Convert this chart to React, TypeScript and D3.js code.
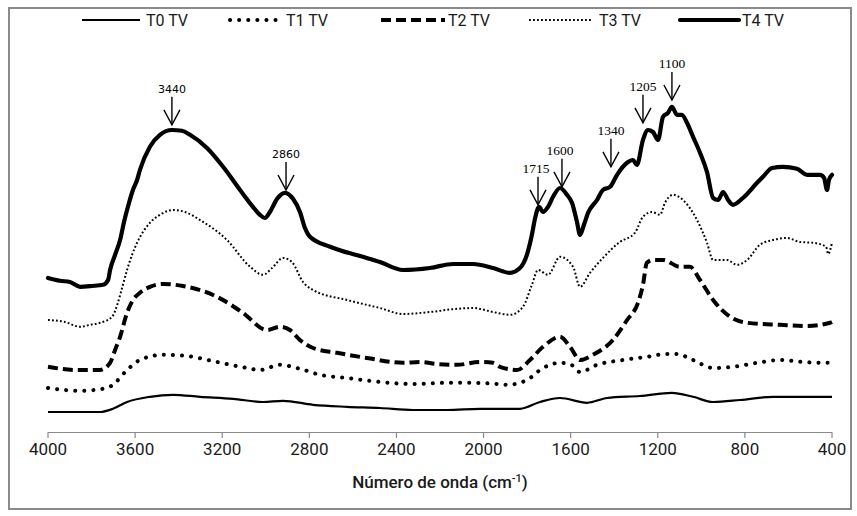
import React from "react";
import * as d3 from "d3";

// wavenumber (cm-1), absorbance (a.u.)
const T0: [number, number][] = [
  [4000, 0.05], [3761, 0.05], [3702, 0.058], [3637, 0.075], [3532, 0.088], [3426, 0.093],
  [3302, 0.088], [3150, 0.083], [3013, 0.075], [2921, 0.078], [2783, 0.068], [2627, 0.063],
  [2476, 0.06], [2324, 0.055], [2168, 0.055], [2016, 0.058], [1833, 0.058], [1741, 0.075],
  [1649, 0.085], [1525, 0.073], [1433, 0.085], [1282, 0.09], [1135, 0.098], [1038, 0.088],
  [946, 0.075], [822, 0.08], [671, 0.088], [547, 0.088], [400, 0.088],
];
const T1: [number, number][] = [
  [4000, 0.11], [3853, 0.103], [3729, 0.11], [3692, 0.123], [3637, 0.155], [3578, 0.18],
  [3472, 0.193], [3362, 0.19], [3224, 0.175], [3086, 0.16], [3027, 0.155], [2935, 0.168],
  [2843, 0.158], [2751, 0.143], [2627, 0.135], [2476, 0.125], [2324, 0.12], [2168, 0.123],
  [2048, 0.123], [1938, 0.12], [1892, 0.118], [1801, 0.13], [1727, 0.16], [1649, 0.173],
  [1603, 0.17], [1557, 0.15], [1479, 0.168], [1360, 0.18], [1250, 0.188], [1158, 0.195],
  [1112, 0.195], [1038, 0.18], [946, 0.16], [855, 0.163], [744, 0.173], [639, 0.18],
  [533, 0.175], [441, 0.173], [400, 0.173],
];
const T2: [number, number][] = [
  [4000, 0.163], [3867, 0.155], [3761, 0.155], [3715, 0.173], [3692, 0.205], [3669, 0.238],
  [3637, 0.298], [3610, 0.33], [3578, 0.348], [3532, 0.363], [3472, 0.37], [3380, 0.365],
  [3224, 0.338], [3105, 0.298], [2994, 0.255], [2935, 0.263], [2889, 0.255], [2843, 0.23],
  [2783, 0.21], [2673, 0.198], [2535, 0.185], [2370, 0.173], [2292, 0.175], [2214, 0.17],
  [2122, 0.168], [2016, 0.175], [1957, 0.173], [1925, 0.163], [1846, 0.155], [1787, 0.18],
  [1727, 0.213], [1649, 0.238], [1603, 0.213], [1557, 0.18], [1498, 0.193], [1406, 0.23],
  [1341, 0.28], [1291, 0.323], [1268, 0.368], [1250, 0.423], [1222, 0.43], [1176, 0.43],
  [1098, 0.413], [1052, 0.413], [1006, 0.38], [946, 0.33], [868, 0.288], [790, 0.273],
  [639, 0.268], [515, 0.265], [409, 0.273], [400, 0.275],
];
const T3: [number, number][] = [
  [4000, 0.28], [3922, 0.275], [3853, 0.263], [3807, 0.268], [3761, 0.273], [3706, 0.288],
  [3679, 0.323], [3660, 0.36], [3637, 0.405], [3614, 0.443], [3591, 0.473], [3532, 0.523],
  [3486, 0.543], [3426, 0.555], [3371, 0.55], [3302, 0.53], [3178, 0.48], [3072, 0.413],
  [3013, 0.393], [2971, 0.41], [2921, 0.435], [2880, 0.425], [2829, 0.375], [2783, 0.355],
  [2627, 0.33], [2476, 0.31], [2370, 0.295], [2246, 0.3], [2122, 0.308], [2048, 0.31],
  [1957, 0.3], [1879, 0.293], [1819, 0.313], [1778, 0.368], [1750, 0.405], [1704, 0.393],
  [1649, 0.438], [1589, 0.413], [1557, 0.363], [1511, 0.398], [1452, 0.435], [1374, 0.475],
  [1305, 0.498], [1268, 0.538], [1227, 0.55], [1190, 0.543], [1167, 0.573], [1130, 0.593],
  [1084, 0.58], [1020, 0.53], [974, 0.473], [946, 0.43], [882, 0.43], [836, 0.418],
  [790, 0.43], [731, 0.468], [671, 0.48], [607, 0.485], [547, 0.475], [487, 0.473],
  [427, 0.463], [418, 0.445], [400, 0.473],
];
const T4: [number, number][] = [
  [4000, 0.385], [3945, 0.378], [3899, 0.375], [3853, 0.363], [3798, 0.365], [3747, 0.368],
  [3724, 0.38], [3715, 0.405], [3692, 0.443], [3669, 0.48], [3651, 0.525], [3633, 0.563],
  [3610, 0.605], [3591, 0.63], [3578, 0.655], [3532, 0.713], [3486, 0.743], [3431, 0.755],
  [3385, 0.753], [3348, 0.743], [3270, 0.71], [3196, 0.663], [3118, 0.605], [3059, 0.563],
  [3027, 0.543], [3004, 0.535], [2981, 0.55], [2948, 0.583], [2912, 0.598], [2875, 0.583],
  [2843, 0.55], [2820, 0.51], [2797, 0.488], [2705, 0.463], [2554, 0.438], [2476, 0.425],
  [2370, 0.405], [2246, 0.41], [2140, 0.42], [2048, 0.42], [1957, 0.41], [1879, 0.398],
  [1833, 0.41], [1801, 0.443], [1778, 0.493], [1764, 0.533], [1745, 0.563], [1727, 0.55],
  [1704, 0.563], [1681, 0.588], [1649, 0.61], [1617, 0.593], [1594, 0.573], [1571, 0.525],
  [1557, 0.493], [1539, 0.518], [1520, 0.548], [1479, 0.58], [1452, 0.605], [1419, 0.613],
  [1387, 0.643], [1341, 0.673], [1314, 0.68], [1296, 0.668], [1268, 0.73], [1245, 0.755],
  [1222, 0.75], [1199, 0.73], [1176, 0.788], [1153, 0.798], [1135, 0.813], [1112, 0.793],
  [1089, 0.793], [1066, 0.773], [1038, 0.738], [1006, 0.698], [974, 0.65], [946, 0.585],
  [923, 0.58], [900, 0.6], [877, 0.58], [855, 0.568], [809, 0.585], [744, 0.623],
  [717, 0.638], [675, 0.66], [625, 0.663], [561, 0.658], [515, 0.643], [455, 0.643],
  [436, 0.635], [423, 0.605], [414, 0.63], [400, 0.643],
];

const seriesNames = ["T0 TV", "T1 TV", "T2 TV", "T3 TV", "T4 TV"];
const seriesData = [T0, T1, T2, T3, T4];
const xTicks = [4000, 3600, 3200, 2800, 2400, 2000, 1600, 1200, 800, 400];

// peak annotations: label, wavenumber of arrow, absorbance at arrow tip
const peakLabels = ["3440", "2860", "1715", "1600", "1340", "1205", "1100"];
const peakWn = [3431, 2907, 1750, 1640, 1415, 1268, 1135];
const peakTip = [0.768, 0.605, 0.568, 0.613, 0.663, 0.773, 0.83];

const W = 857;
const H = 516;

type Style = { width: number; dash: string; cap: "round" | "butt" };
const styles: Style[] = [
  { width: 2.2, dash: "none", cap: "butt" },
  { width: 4, dash: "0.1 9", cap: "round" },
  { width: 4, dash: "10 5", cap: "butt" },
  { width: 2, dash: "1.8 2.2", cap: "butt" },
  { width: 4.2, dash: "none", cap: "round" },
];

export default function App() {
  const x = d3.scaleLinear().domain([4000, 400]).range([48, 832]);
  const y = d3.scaleLinear().domain([0, 1]).range([432, 32]);
  const line = d3
    .line<[number, number]>()
    .x((d) => x(d[0]))
    .y((d) => y(d[1]))
    .curve(d3.curveMonotoneX);

  const legendLineX = [82, 230, 381, 529, 680];
  const legendLineW = [58, 53, 64, 62, 59];
  const legendTextX = [146, 286, 448, 599, 742];

  const sansFont = "Roboto, 'Liberation Sans', sans-serif";

  return (
    <svg
      width={W}
      height={H}
      style={{ position: "absolute", left: 0, top: 0, background: "#fff" }}
    >
      <rect x={9} y={8} width={842} height={501} fill="#fff" stroke="#8a8a8a" strokeWidth={2} />

      {/* axis */}
      <g>
        <line x1={x(4000)} x2={x(400)} y1={432.5} y2={432.5} stroke="#8a8a8a" strokeWidth={1.2} />
        {xTicks.map((t) => (
          <g key={t}>
            <line x1={x(t)} x2={x(t)} y1={432} y2={438} stroke="#8a8a8a" strokeWidth={1.2} />
            <text
              x={x(t)}
              y={455}
              textAnchor="middle"
              fontFamily={sansFont}
              fontSize={17}
              fill="#1a1a1a"
            >
              {t}
            </text>
          </g>
        ))}
        <text
          x={440}
          y={488}
          textAnchor="middle"
          fontFamily={sansFont}
          fontSize={17}
          fontWeight={500}
          fill="#1a1a1a"
        >
          Número de onda (cm
          <tspan fontSize={11} dy={-6}>-1</tspan>
          <tspan dy={6}>)</tspan>
        </text>
      </g>

      {/* series */}
      {seriesData.map((d, i) => (
        <path
          key={i}
          d={line(d) || ""}
          fill="none"
          stroke="#000"
          strokeWidth={styles[i].width}
          strokeDasharray={styles[i].dash}
          strokeLinecap={styles[i].cap}
          strokeLinejoin="round"
        />
      ))}

      {/* peak arrows */}
      {peakLabels.map((lab, i) => {
        const px = x(peakWn[i]);
        const tip = y(peakTip[i]);
        const top = tip - 28;
        const sans = i < 2;
        return (
          <g key={lab}>
            <line x1={px} x2={px} y1={top} y2={tip} stroke="#000" strokeWidth={1.4} />
            <polyline
              points={`${px - 8},${tip - 15} ${px},${tip} ${px + 8},${tip - 15}`}
              fill="none"
              stroke="#000"
              strokeWidth={1.4}
            />
            <text
              x={i === 2 ? px - 2 : px + (i === 3 ? -2 : 0)}
              y={top - 4}
              textAnchor="middle"
              fontFamily={sans ? "'DejaVu Sans', sans-serif" : "'Liberation Serif', serif"}
              fontSize={sans ? 11 : 13.5}
              fill="#000"
            >
              {lab}
            </text>
          </g>
        );
      })}

      {/* legend */}
      {seriesNames.map((n, i) => (
        <g key={n}>
          <line
            x1={legendLineX[i]}
            x2={legendLineX[i] + legendLineW[i]}
            y1={20}
            y2={20}
            stroke="#000"
            strokeWidth={styles[i].width}
            strokeDasharray={styles[i].dash}
            strokeLinecap={styles[i].cap}
          />
          <text
            x={legendTextX[i]}
            y={26}
            fontFamily={sansFont}
            fontSize={16}
            fill="#1a1a1a"
          >
            {n}
          </text>
        </g>
      ))}
    </svg>
  );
}
